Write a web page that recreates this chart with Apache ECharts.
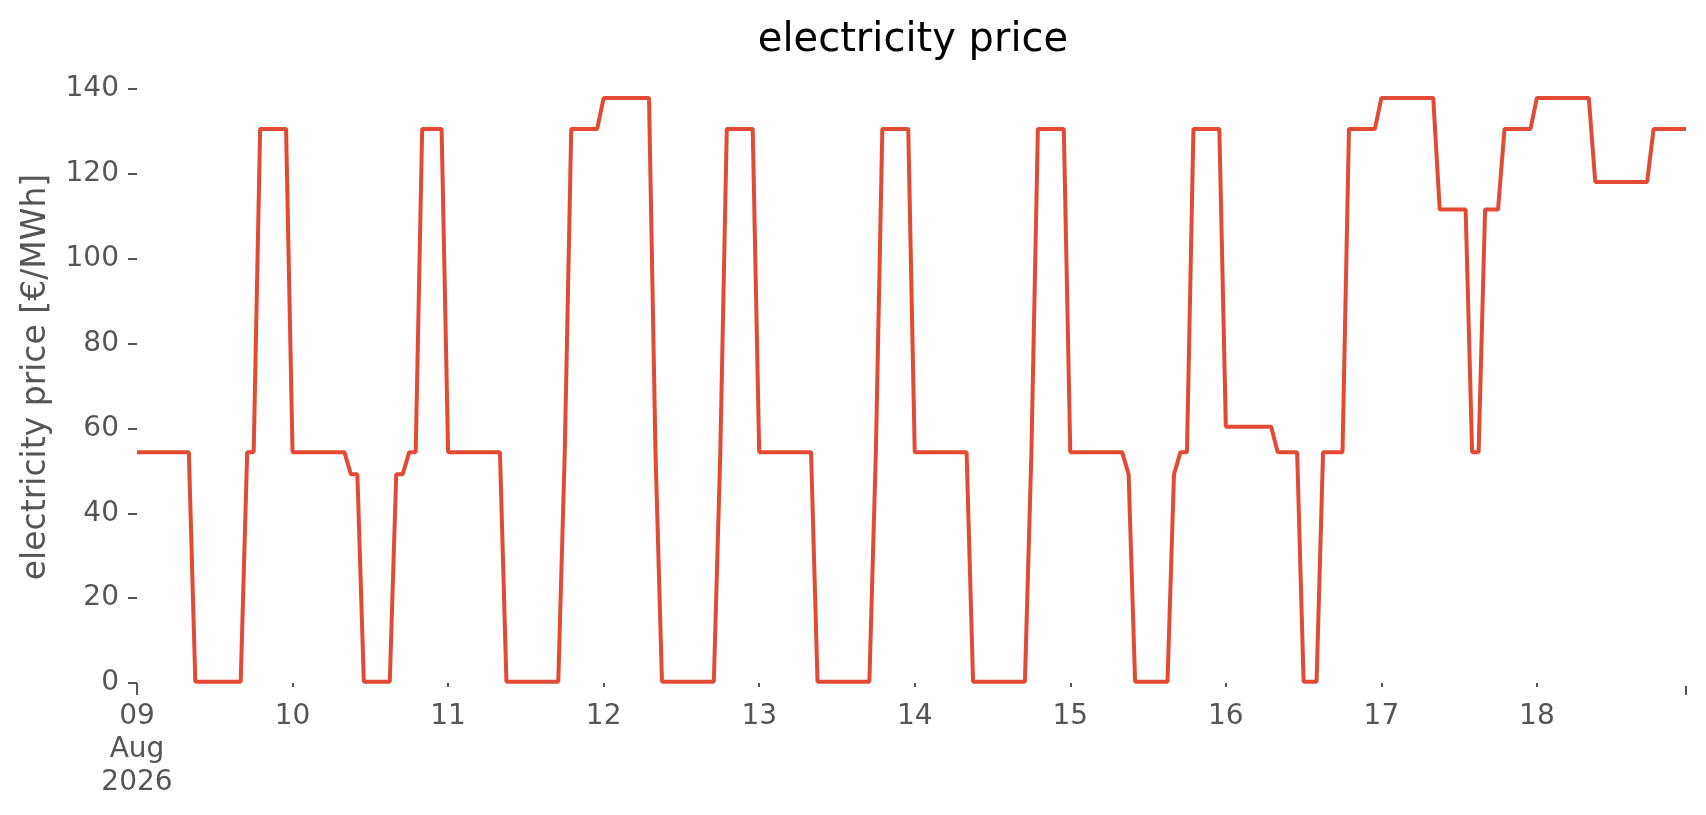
<!DOCTYPE html>
<html>
<head>
<meta charset="utf-8">
<script src="https://cdn.jsdelivr.net/npm/echarts@6/dist/echarts.min.js"></script>
<style>
html,body{margin:0;padding:0;background:#fff;}
#chart{width:1706px;height:815px;}
</style>
</head>
<body>
<div id="chart"></div>
<script>
// Hourly electricity price [€/MWh], 2026-08-09 00:00 .. 2026-08-18 23:00
const startDay = 9;
const day09 = [54.4,54.4,54.4,54.4,54.4,54.4,54.4,54.4,54.4,0.3,0.3,0.3,0.3,0.3,0.3,0.3,0.3,54.4,54.4,130.6,130.6,130.6,130.6,130.6];
const day10 = [54.4,54.4,54.4,54.4,54.4,54.4,54.4,54.4,54.4,49.2,49.2,0.3,0.3,0.3,0.3,0.3,49.2,49.2,54.4,54.4,130.6,130.6,130.6,130.6];
const day11 = [54.4,54.4,54.4,54.4,54.4,54.4,54.4,54.4,54.4,0.3,0.3,0.3,0.3,0.3,0.3,0.3,0.3,0.3,54.4,130.6,130.6,130.6,130.6,130.6];
const day12 = [137.9,137.9,137.9,137.9,137.9,137.9,137.9,137.9,54.4,0.3,0.3,0.3,0.3,0.3,0.3,0.3,0.3,0.3,54.4,130.6,130.6,130.6,130.6,130.6];
const day13 = [54.4,54.4,54.4,54.4,54.4,54.4,54.4,54.4,54.4,0.3,0.3,0.3,0.3,0.3,0.3,0.3,0.3,0.3,54.4,130.6,130.6,130.6,130.6,130.6];
const day14 = [54.4,54.4,54.4,54.4,54.4,54.4,54.4,54.4,54.4,0.3,0.3,0.3,0.3,0.3,0.3,0.3,0.3,0.3,54.4,130.6,130.6,130.6,130.6,130.6];
const day15 = [54.4,54.4,54.4,54.4,54.4,54.4,54.4,54.4,54.4,49.2,0.3,0.3,0.3,0.3,0.3,0.3,49.2,54.4,54.4,130.6,130.6,130.6,130.6,130.6];
const day16 = [60.4,60.4,60.4,60.4,60.4,60.4,60.4,60.4,54.4,54.4,54.4,54.4,0.3,0.3,0.3,54.4,54.4,54.4,54.4,130.6,130.6,130.6,130.6,130.6];
const day17 = [137.9,137.9,137.9,137.9,137.9,137.9,137.9,137.9,137.9,111.6,111.6,111.6,111.6,111.6,54.4,54.4,111.6,111.6,111.6,130.6,130.6,130.6,130.6,130.6];
const day18 = [137.9,137.9,137.9,137.9,137.9,137.9,137.9,137.9,137.9,118.1,118.1,118.1,118.1,118.1,118.1,118.1,118.1,118.1,130.6,130.6,130.6,130.6,130.6,130.6];

const prices = [].concat(day09, day10, day11, day12, day13, day14, day15, day16, day17, day18);

const yTicks = [0, 20, 40, 60, 80, 100, 120, 140];

// hourly timestamps as category labels
const hours = [];
for (let d = 0; d < 10; d++) {
  for (let h = 0; h < 24; h++) {
    const dd = String(startDay + d).padStart(2, '0');
    const hh = String(h).padStart(2, '0');
    hours.push('2026-08-' + dd + ' ' + hh + ':00');
  }
}
const lastIdx = hours.length - 1;

const FONT = '"DejaVu Sans", "Liberation Sans", sans-serif';
const chart = echarts.init(document.getElementById('chart'), null, {renderer: 'canvas'});

chart.setOption({
  animation: false,
  backgroundColor: '#ffffff',
  title: {
    text: 'electricity price',
    left: 913,
    top: 21,
    textAlign: 'center',
    padding: 0,
    textStyle: {fontSize: 40, fontWeight: 'normal', color: '#000000', fontFamily: FONT, lineHeight: 40}
  },
  grid: {left: 137, right: 20, top: 89, bottom: 132, containLabel: false},
  xAxis: [
    {
      type: 'category',
      data: hours,
      boundaryGap: false,
      offset: 3,
      axisLine: {show: false},
      axisTick: {
        show: true,
        length: 4,
        interval: function (idx) { return idx % 24 === 0; },
        lineStyle: {color: '#555555', width: 2}
      },
      axisLabel: {
        interval: function (idx) { return idx % 24 === 0; },
        margin: 14,
        fontSize: 28,
        lineHeight: 33,
        color: '#555555',
        fontFamily: FONT,
        formatter: function (value, idx) {
          const day = value.slice(8, 10);
          if (idx === 0) return day + '\nAug\n2026';
          return day;
        }
      },
      splitLine: {show: false}
    },
    {
      type: 'category',
      data: hours,
      boundaryGap: false,
      position: 'bottom',
      offset: 3,
      axisLine: {show: false},
      axisTick: {
        show: true,
        length: 9,
        interval: function (idx) { return idx === 0 || idx === lastIdx; },
        lineStyle: {color: '#555555', width: 2}
      },
      axisLabel: {show: false},
      splitLine: {show: false}
    }
  ],
  yAxis: {
    type: 'value',
    min: yTicks[0],
    max: yTicks[yTicks.length - 1],
    interval: 20,
    axisLine: {show: false},
    axisTick: {show: true, length: 9, lineStyle: {color: '#555555', width: 2}},
    axisLabel: {margin: 18, fontSize: 28, color: '#555555', fontFamily: FONT},
    splitLine: {show: false}
  },
  graphic: [
    {
      type: 'text',
      x: 36,
      y: 377,
      rotation: Math.PI / 2,
      style: {
        text: 'electricity price [€/MWh]',
        fontSize: 33,
        fontFamily: FONT,
        fill: '#555555',
        align: 'center',
        verticalAlign: 'middle',
        textAlign: 'center',
        textVerticalAlign: 'middle'
      }
    }
  ],
  series: [
    {
      type: 'line',
      name: 'electricity price',
      data: prices,
      xAxisIndex: 0,
      yAxisIndex: 0,
      showSymbol: false,
      symbol: 'none',
      lineStyle: {color: '#E24A33', width: 4},
      itemStyle: {color: '#E24A33'}
    }
  ]
});
</script>
</body>
</html>
